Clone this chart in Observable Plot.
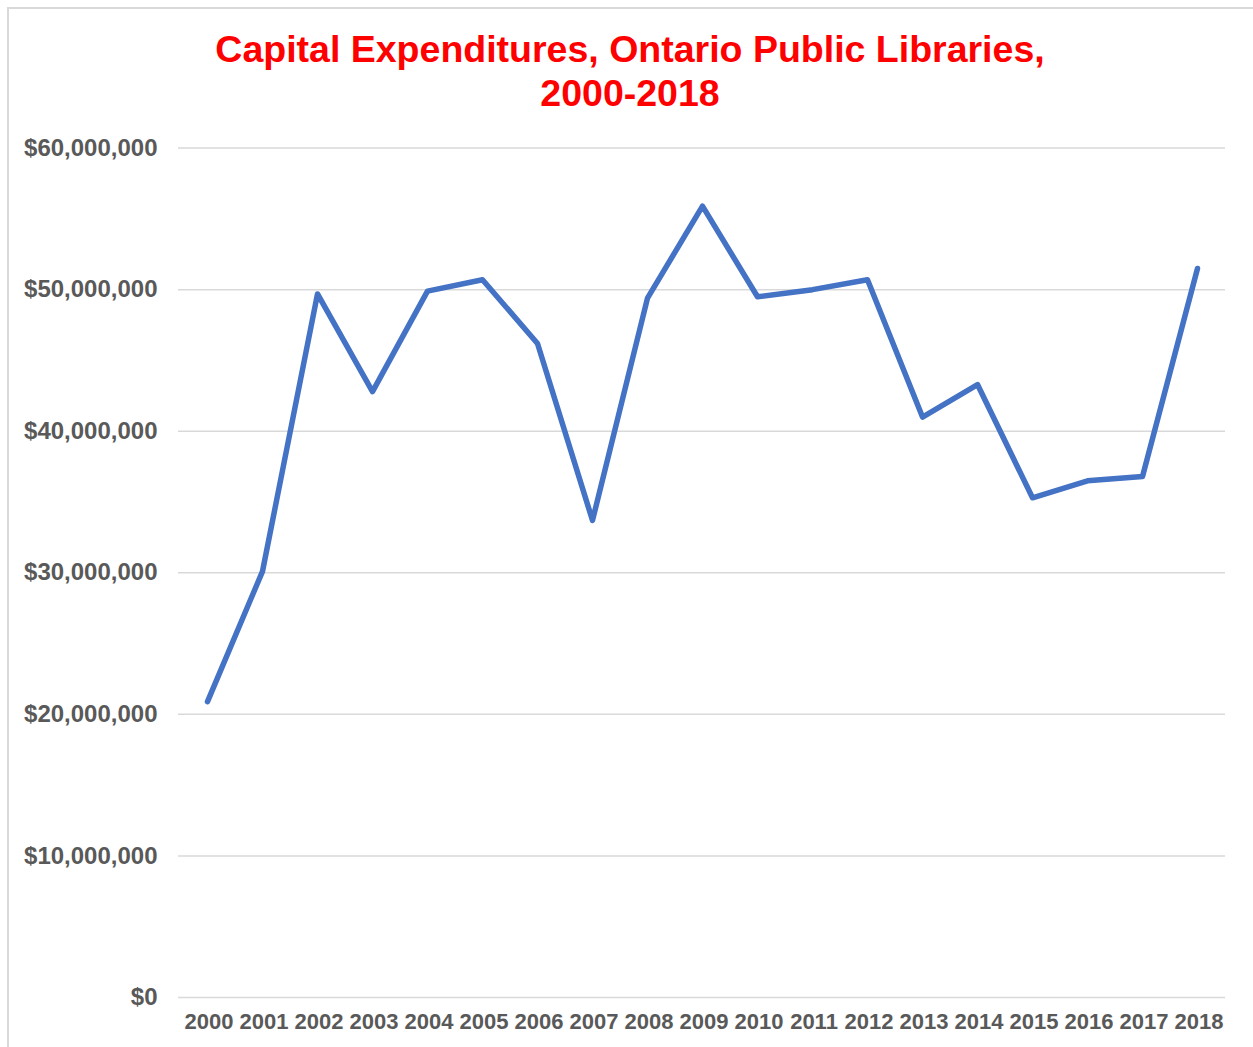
<!DOCTYPE html>
<html>
<head>
<meta charset="utf-8">
<script src="https://cdn.jsdelivr.net/npm/d3@7"></script>
<script src="https://cdn.jsdelivr.net/npm/@observablehq/plot@0.6"></script>
<style>
  html, body { margin: 0; padding: 0; background: #fff; width: 1253px; height: 1047px; overflow: hidden; }
  #frame { position: absolute; left: 7px; top: 7px; width: 1260px; height: 1060px; border: 2px solid #d9d9d9; box-sizing: border-box; }
  #title { position: absolute; left: 7px; top: 27px; width: 1246px; text-align: center; font-family: "Liberation Sans", Arial, sans-serif; font-weight: bold; font-size: 37.5px; line-height: 44px; color: #ff0000; }
  #chart { position: absolute; left: 0; top: 130px; }
</style>
</head>
<body>
<div id="frame"></div>
<div id="title">Capital Expenditures, Ontario Public Libraries,<br>2000-2018</div>
<div id="chart"></div>
<script>
const years = ["2000","2001","2002","2003","2004","2005","2006","2007","2008","2009","2010","2011","2012","2013","2014","2015","2016","2017","2018"];
const expenditures = [20.9e6, 30.1e6, 49.7e6, 42.8e6, 49.9e6, 50.7e6, 46.2e6, 33.7e6, 49.4e6, 55.9e6, 49.5e6, 50.0e6, 50.7e6, 41.0e6, 43.3e6, 35.3e6, 36.5e6, 36.8e6, 51.5e6];
const yTicks = [0, 10e6, 20e6, 30e6, 40e6, 50e6, 60e6];

const data = years.map((year, i) => ({year, value: expenditures[i]}));
const fmt = d => "$" + d3.format(",")(d);

const chart = Plot.plot({
  width: 1253,
  height: 917,
  marginTop: 17.6,
  marginBottom: 50,
  marginLeft: 178,
  marginRight: 28,
  style: {fontFamily: "'Liberation Sans', Arial, sans-serif", background: "transparent", overflow: "visible"},
  x: {type: "point", domain: years, padding: 0.5},
  y: {domain: [0, 60e6]},
  marks: [
    Plot.gridY(yTicks, {stroke: "#d9d9d9", strokeOpacity: 1, strokeWidth: 1.5}),
    Plot.axisY(yTicks, {tickSize: 0, tickPadding: 21, tickFormat: fmt, fontSize: 24, fontWeight: "bold", color: "#595959", label: null}),
    Plot.axisX({tickSize: 0, tickPadding: 16, fontSize: 22, fontWeight: "bold", color: "#595959", label: null, dx: 1.5}),
    Plot.line(data, {x: "year", y: "value", stroke: "#4472C4", strokeWidth: 5.5, strokeLinejoin: "round", strokeLinecap: "round"})
  ]
});
document.getElementById("chart").append(chart);
</script>
</body>
</html>
